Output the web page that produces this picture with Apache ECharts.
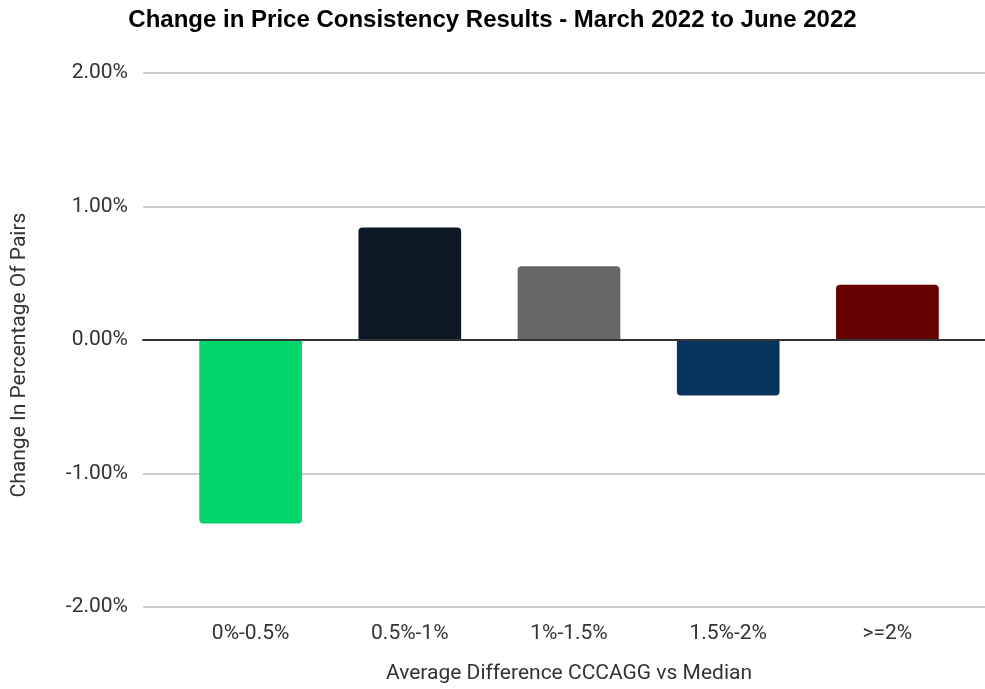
<!DOCTYPE html>
<html>
<head>
<meta charset="utf-8">
<script src="https://cdn.jsdelivr.net/npm/echarts@6/dist/echarts.min.js"></script>
<style>
  html, body { margin: 0; padding: 0; background: #fff; }
  #main { width: 985px; height: 689px; }
</style>
</head>
<body>
<div id="main"></div>
<script>
// data
var categories = ['0%-0.5%', '0.5%-1%', '1%-1.5%', '1.5%-2%', '>=2%'];
var changes = [-1.38, 0.84, 0.55, -0.42, 0.41];
var barColors = ['#02d66a', '#0d1826', '#666666', '#07345e', '#660000'];

var myChart = echarts.init(document.getElementById('main'));

var font = 'Roboto';

var option = {
    backgroundColor: '#ffffff',
    title: {
        text: 'Change in Price Consistency Results - March 2022 to June 2022',
        left: 'center',
        top: 3,
        textStyle: {
            fontFamily: 'Liberation Sans',
            fontWeight: 'bold',
            fontSize: 24,
            color: '#000'
        }
    },
    grid: [
        // full-width grid for gridlines and y labels
        { left: 143, right: 0, top: 73, bottom: 82 },
        // inner grid for the bars
        { left: 171, right: 18, top: 73, bottom: 82 }
    ],
    xAxis: [
        {
            type: 'value',
            gridIndex: 0,
            min: 0,
            max: 1,
            z: 5,
            axisLine: { show: true, onZero: true, lineStyle: { color: '#333', width: 2 } },
            axisTick: { show: false },
            axisLabel: { show: false },
            splitLine: { show: false }
        },
        {
            type: 'category',
            gridIndex: 1,
            data: categories,
            axisLine: { show: false },
            axisTick: { show: false },
            axisLabel: { margin: 17, fontFamily: font, fontSize: 21, color: '#333' },
            name: 'Average Difference CCCAGG vs Median',
            nameLocation: 'middle',
            nameGap: 57,
            nameTextStyle: { fontFamily: font, fontSize: 21, color: '#333' }
        }
    ],
    yAxis: [
        {
            type: 'value',
            gridIndex: 0,
            min: -2,
            max: 2,
            interval: 1,
            axisLine: { show: false },
            axisTick: { show: false },
            axisLabel: {
                margin: 15,
                fontFamily: font,
                fontSize: 21,
                color: '#333',
                formatter: function (v) { return v.toFixed(2) + '%'; }
            },
            splitLine: { lineStyle: { color: '#cccccc', width: 2 } },
            name: 'Change In Percentage Of Pairs',
            nameLocation: 'middle',
            nameGap: 113,
            nameTextStyle: { fontFamily: font, fontSize: 21, color: '#333', padding: [0, 30, 0, 0] }
        },
        {
            type: 'value',
            gridIndex: 1,
            min: -2,
            max: 2,
            interval: 1,
            show: false,
            splitLine: { show: false }
        }
    ],
    series: [
        {
            type: 'bar',
            xAxisIndex: 1,
            yAxisIndex: 1,
            barWidth: '64.5%',
            data: changes.map(function (v, i) {
                return {
                    value: v,
                    itemStyle: {
                        color: barColors[i],
                        borderRadius: v >= 0 ? [4, 4, 0, 0] : [0, 0, 4, 4]
                    }
                };
            })
        }
    ]
};

myChart.setOption(option);
</script>
</body>
</html>
